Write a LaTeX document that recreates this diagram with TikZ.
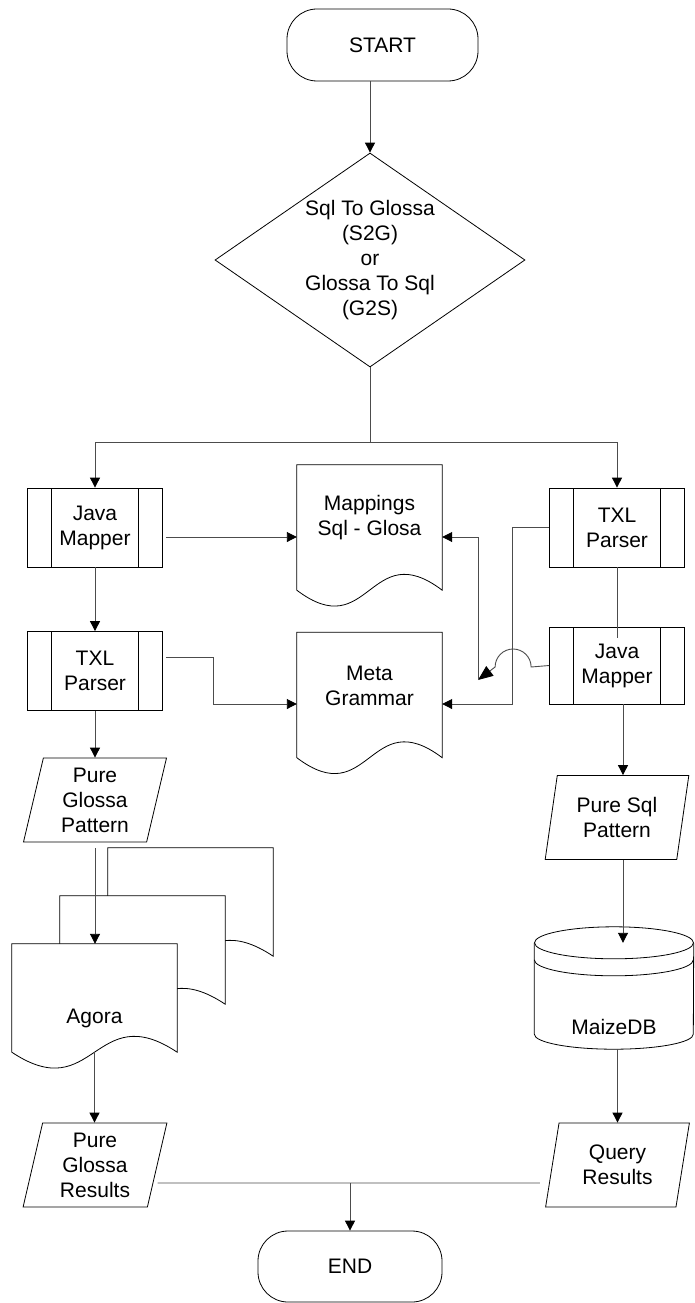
\documentclass[tikz,border=0pt]{standalone}
\usepackage{fontspec}
\setmainfont{Liberation Sans}
\usetikzlibrary{positioning,calc,arrows.meta,shapes.geometric}

\begin{document}
\begin{tikzpicture}[
    x=1pt, y=-1pt,
    font=\fontsize{21}{25}\selectfont,
    outl/.style={
        draw=black,
        line width=0.8pt
    },
    term/.style={
        rectangle,
        rounded corners=30pt,
        draw=black,
        line width=0.8pt,
        minimum width=191pt,
        minimum height=72pt
    },
    decision/.style={
        diamond,
        draw=black,
        line width=0.8pt,
        aspect=1.45,
        inner sep=0pt,
        minimum width=310pt,
        minimum height=214pt,
        align=center
    },
    proc/.style={
        rectangle,
        draw=black,
        line width=0.8pt,
        align=center,
        inner sep=0pt,
        minimum width=135pt,
        minimum height=79pt,
        path picture={
            \draw[line width=0.8pt]
                ([xshift=24pt]path picture bounding box.north west) -- ([xshift=24pt]path picture bounding box.south west)
                ([xshift=-24pt]path picture bounding box.north east) -- ([xshift=-24pt]path picture bounding box.south east);
        }
    },
    io/.style={
        trapezium,
        trapezium left angle=78.6,
        trapezium right angle=101.4,
        trapezium stretches=true,
        draw=black,
        line width=0.8pt,
        align=center,
        inner sep=0pt,
        minimum width=144pt,
        minimum height=84pt
    },
    doc/.style={
        rectangle,
        align=center,
        minimum width=145pt,
        minimum height=106pt
    },
    txt/.style={
        inner sep=0pt
    },
    conn/.style={
        draw=black!70,
        line width=0.9pt
    },
    arrow/.style={
        conn,
        -{Triangle[length=10pt,width=10pt,color=black]}
    }
]
\useasboundingbox (0,0) rectangle (694,1303);

\node[term] (start) at (382.5,45) {START};
\node[decision] (dec) at (370,260) {Sql To Glossa\\(S2G)\\or\\Glossa To Sql\\(G2S)};

\node[proc] (jmapl) at (95,527.5) {Java\\Mapper};
\node[proc] (txll)  at (95,671)   {TXL\\Parser};
\node[proc] (txlr)  at (617,527.5) {TXL\\Parser};
\node[proc, minimum height=77pt] (jmapr) at (617,665.5) {Java\\Mapper};

\node[doc] (mapsql) at (369.5,518) {Mappings\\Sql - Glosa};
\node[doc] (meta)   at (369.5,685.5) {Meta\\Grammar};

\node[io] (pgpat) at (95,800)    {Pure\\Glossa\\Pattern};
\node[io] (psql)  at (617,817.5) {Pure Sql\\Pattern};
\node[io] (pgres) at (95,1165)   {Pure\\Glossa\\Results};
\node[io] (qres)  at (617.5,1165) {Query\\Results};

\node[doc, minimum width=165pt, minimum height=108pt] (agora) at (94.5,998) {};
\node[rectangle, minimum width=159pt, minimum height=91pt] (maize) at (614,988.5) {};

\node[term, minimum width=184pt, minimum height=71pt] (stop) at (350,1266.5) {END};

% document outlines
\foreach \d in {mapsql,meta}{
    \draw[outl] (\d.north west) -- ([yshift=-19pt]\d.south west)
        .. controls ([yshift=-74pt]\d.south) and ([yshift=36pt]\d.south) ..
        ([yshift=-19pt]\d.south east) -- (\d.north east) -- cycle;
}
\foreach \o in {96,48,0}{
    \draw[outl, fill=white] ([shift={(\o pt,\o pt)}]agora.north west) -- ([shift={(\o pt,\o pt)}]agora.south west)
        .. controls ([shift={(\o pt,\o pt-55pt)}]agora.south) and ([shift={(\o pt,\o pt+55pt)}]agora.south) ..
        ([shift={(\o pt,\o pt)}]agora.south east) -- ([shift={(\o pt,\o pt)}]agora.north east) -- cycle;
}
\node[txt] (agoratxt) at ([yshift=-20pt]agora.center) {Agora};

% stored data
\draw[outl] (maize.north west) -- (maize.south west)
    arc[start angle=180, end angle=360, x radius=79.5pt, y radius=15pt] -- (maize.north east);
\draw[outl] (maize.north) ellipse[x radius=79.5pt, y radius=16pt];
\draw[outl] ([yshift=-17pt]maize.north west) arc[start angle=180, end angle=360, x radius=79.5pt, y radius=16pt];
\node[txt] (maizetxt) at ([yshift=-38.5pt]maize.center) {MaizeDB};

\coordinate (split) at ([yshift=-75pt]dec.south);
\coordinate (j2m)   at ([xshift=3pt,yshift=-9.5pt]jmapl.east);
\coordinate (t2m)   at ([xshift=3pt,yshift=14pt]txll.east);
\coordinate (m2)    at ([yshift=-18.5pt]meta.west);
\coordinate (m3)    at ([yshift=-18.5pt]meta.east);
\coordinate (mjoin) at (478,680);
\coordinate (sqlx)  at ([xshift=6pt]jmapr.south);
\coordinate (pgx)   at (txll.south |- pgpat.south);
\coordinate (mzb)   at ([yshift=-15pt]maize.south);
\coordinate (resj)  at ([yshift=-18pt]pgres.east);
\coordinate (resq)  at ([xshift=-12pt,yshift=-18pt]qres.west);

\draw[arrow] (start.south -| dec.north) -- (dec.north);
\draw[conn] (dec.south) -- (split);
\draw[arrow] (split) -| (jmapl.north);
\draw[arrow] (split) -| (txlr.north);

\draw[arrow] (jmapl.south) -- (txll.north);
\draw[arrow] (j2m) -- (j2m -| mapsql.west);
\draw[arrow] (t2m) -- ++(48pt,0) |- (m2);

\draw[conn] (txlr.south) -- ([yshift=-11pt]jmapr.north);
\draw[arrow] (txlr.west) -- ++(-37pt,0) |- (m3);
\draw[conn, -{Triangle[length=15pt,width=12pt,color=black]}] (jmapr.west) -- ++(-18pt,-1.5pt)
    arc[start angle=0, end angle=180, radius=18pt] -- (mjoin);
\draw[arrow] (mjoin) |- (j2m -| mapsql.east);

\draw[arrow] (txll.south) -- (txll.south |- pgpat.north);
\draw[arrow] ([yshift=-6pt]pgx) -- (pgx |- agora.north);
\draw[arrow] (agora.south) -- (agora.south |- pgres.north);

\draw[arrow] (sqlx) -- (sqlx |- psql.north);
\draw[arrow] (sqlx |- psql.south) -- (sqlx |- maize.north);
\draw[arrow] (qres.center |- mzb) -- (qres.center |- qres.north);

\draw[conn] (resj) -- (resq);
\draw[arrow] (resj -| stop.north) -- (stop.north);

\end{tikzpicture}
\end{document}
